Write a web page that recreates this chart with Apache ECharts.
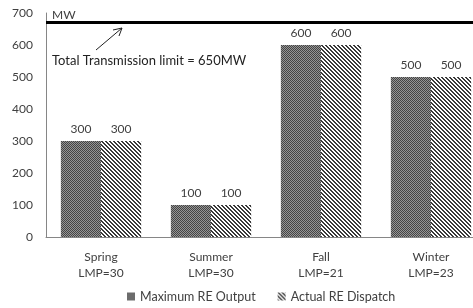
<!DOCTYPE html>
<html>
<head>
<meta charset="utf-8">
<script src="https://cdn.jsdelivr.net/npm/echarts@6/dist/echarts.min.js"></script>
<style>
  html, body { margin: 0; padding: 0; background: #fff; }
  #chart { width: 473px; height: 308px; }
</style>
</head>
<body>
<div id="chart"></div>
<script>
const seasons = ['Spring\nLMP=30', 'Summer\nLMP=30', 'Fall\nLMP=21', 'Winter\nLMP=23'];
const maxOutput = [300, 100, 600, 500];
const actualDispatch = [300, 100, 600, 500];
const limitLevel = 670;   // where the thick line sits on the axis
const yTicks = [0, 100, 200, 300, 400, 500, 600, 700];

// checkerboard fill for "Maximum RE Output"
const makeChecker = () => {
    let c = document.createElement('canvas');
    c.width = 2; c.height = 2;
    let ctx = c.getContext('2d');
    ctx.fillStyle = '#959595';
    ctx.fillRect(0, 0, 2, 2);
    ctx.fillStyle = '#444444';
    ctx.fillRect(0, 0, 1, 1);
    ctx.fillRect(1, 1, 1, 1);
    return c;
}

// diagonal "\" hatch for "Actual RE Dispatch"
const makeHatch = () => {
    let c = document.createElement('canvas');
    c.width = 4; c.height = 4;
    let ctx = c.getContext('2d');
    ctx.fillStyle = '#ffffff';
    ctx.fillRect(0, 0, 4, 4);
    ctx.fillStyle = '#3a3a3a';
    for (let y = 0; y < 4; y++) {
        for (let x = 0; x < 4; x++) {
            let d = ((x - y) % 4 + 4) % 4;
            if (d === 0 || d === 1) ctx.fillRect(x, y, 1, 1);
        }
    }
    return c;
}

const checker = { image: makeChecker(), repeat: 'repeat' };
const hatch = { image: makeHatch(), repeat: 'repeat' };

const txt = '#404040';
const fontFam = 'Lato, "Open Sans", sans-serif';

const chart = echarts.init(document.getElementById('chart'), null, { renderer: 'canvas' });

const option = {
    animation: false,
    textStyle: { fontFamily: fontFam },
    grid: { left: 46, right: -13, top: 13, bottom: 71, containLabel: false, outerBoundsMode: 'none' },
    legend: {
        bottom: 0,
        left: 122,
        itemWidth: 8,
        itemHeight: 8,
        itemGap: 22,
        icon: 'rect',
        textStyle: { color: txt, fontSize: 12.5, fontFamily: fontFam }
    },
    xAxis: {
        type: 'category',
        data: seasons,
        axisLine: { lineStyle: { color: '#868686' } },
        axisTick: { show: false },
        axisLabel: { color: txt, fontSize: 12, lineHeight: 16, margin: 12 }
    },
    yAxis: {
        type: 'value',
        min: yTicks[0],
        max: yTicks[yTicks.length - 1],
        interval: 100,
        axisLine: { show: true, lineStyle: { color: '#868686' } },
        axisTick: { show: false },
        splitLine: { show: false },
        axisLabel: { color: txt, fontSize: 12, margin: 13 }
    },
    series: [
        {
            name: 'Maximum RE Output',
            type: 'bar',
            data: maxOutput,
            barGap: '0%',
            barCategoryGap: '27%',
            itemStyle: { color: checker },
            label: { show: true, position: 'top', distance: 6, color: txt, fontSize: 12 },
            markLine: {
                silent: true,
                symbol: 'none',
                lineStyle: { color: '#000', width: 3, type: 'solid' },
                label: {
                    show: true,
                    position: 'insideStartTop',
                    distance: [6, 1],
                    formatter: 'MW',
                    color: txt,
                    fontSize: 12
                },
                data: [{ yAxis: limitLevel }]
            }
        },
        {
            name: 'Actual RE Dispatch',
            type: 'bar',
            data: actualDispatch,
            itemStyle: { color: hatch },
            label: { show: true, position: 'top', distance: 6, color: txt, fontSize: 12 }
        }
    ],
    graphic: [
        {
            type: 'line',
            shape: { x1: 96, y1: 50, x2: 122, y2: 28 },
            style: { stroke: '#222', lineWidth: 1 }
        },
        {
            type: 'polyline',
            shape: { points: [[113, 30], [122, 28], [119, 36]] },
            style: { stroke: '#222', lineWidth: 1, fill: null }
        },
        {
            type: 'text',
            left: 52,
            top: 54,
            style: {
                text: 'Total Transmission limit = 650MW',
                fill: '#222',
                fontSize: 13,
                fontFamily: fontFam
            }
        }
    ]
};

chart.setOption(option);
</script>
</body>
</html>
